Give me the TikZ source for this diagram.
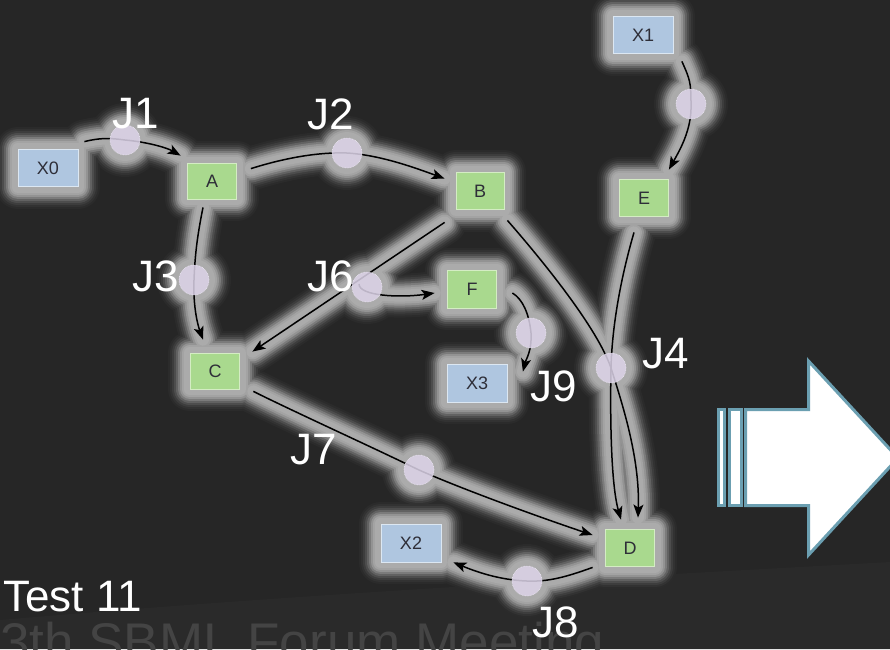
\documentclass[tikz,border=0pt]{standalone}
\usepackage{fontspec}
\setmainfont{Liberation Sans}
\usepackage{tikz}
\usetikzlibrary{arrows.meta,calc}

\pgfdeclarelayer{background}
\pgfdeclarelayer{front}
\pgfsetlayers{background,main,front}

\definecolor{bgdark}{HTML}{262626}
\definecolor{bgband}{HTML}{2A2A2A}
\definecolor{slidegray}{HTML}{444444}
\definecolor{spgreen}{HTML}{A9D98E}
\definecolor{spgreenedge}{HTML}{D4ECC4}
\definecolor{bdblue}{HTML}{AFC6E0}
\definecolor{bdblueedge}{HTML}{DCE7F2}
\definecolor{nodetext}{HTML}{2E2E38}
\definecolor{lav}{HTML}{DDD4E9}
\definecolor{lavedge}{HTML}{EEEAF4}
\definecolor{arrowteal}{HTML}{6B9FB1}
\definecolor{glowa}{HTML}{2B2B2B}
\definecolor{glowb}{HTML}{323232}
\definecolor{glowc}{HTML}{3D3D3D}
\definecolor{glowd}{HTML}{4D4D4D}
\definecolor{glowe}{HTML}{626262}
\definecolor{glowf}{HTML}{7B7B7B}
\definecolor{glowg}{HTML}{939393}
\definecolor{glowh}{HTML}{A3A3A3}
\definecolor{glowi}{HTML}{ABABAB}

\newcommand\nodefont{\fontsize{18}{20}\selectfont}
\newcommand\jfont{\fontsize{44}{48}\selectfont}

% reaction paths, drawn once as glow and once in black
\newcommand\rxnpaths[1]{%
  % J1: X0 -> A
  \draw[#1] ($(X0.north east)+(6,-7.5)$) .. controls +(16,-4) and +(-15,-2) .. (r1.center)
    .. controls +(22,2) and +(-14,-8) .. ($(A.north west)+(-6.5,-7)$);
  % J2: A -> B
  \draw[#1] ($(A.north east)+(14,6)$) .. controls +(35,-11) and +(-28,-1) .. (r2.center)
    .. controls +(33,2) and +(-30,-11) .. ($(B.north west)+(-11,6.5)$);
  % J3: A -> C
  \draw[#1] ($(A.south)+(-9,8)$) .. controls +(-6,30) and +(1,-25) .. (r3.center)
    .. controls +(-1,28) and +(-5,-14) .. ($(C.north)+(-12,-13)$);
  % J4: B + E -> D
  \draw[#1] ($(B.south east)+(3,10.5)$) .. controls +(48,55) and +(-12,-35) .. (r4.center)
    .. controls +(11,35) and +(2,-60) .. ($(D.north)+(8,-11.5)$);
  \draw[#1] ($(E.south)+(-10,15.5)$) .. controls +(-14,48) and +(1,-40) .. (r4.center)
    .. controls +(-1,50) and +(-10,-35) .. ($(D.north)+(-9,-9.5)$);
  % X1 -> E
  \draw[#1] ($(X1.south east)+(8.5,7.5)$) .. controls +(8,18) and +(0,-22) .. (r5.center)
    .. controls +(1,26) and +(10,-18) .. ($(E.north east)+(0,-9.5)$);
  % J6: B -> C + F
  \draw[#1] ($(B.south west)+(-11,12.5)$) -- ($(C.north east)+(12.5,-1)$);
  \draw[#1] ($(r6.center)+(-8,-3)$) .. controls +(0,12) and +(-35,5) .. ($(F.west)+(-12.5,4)$);
  % J7: C -> D
  \draw[#1] ($(C.south east)+(13.5,2)$) .. controls +(40,20) and +(-45,-22) .. (r7.center)
    .. controls +(45,20) and +(-45,-15) .. ($(D.west)+(-12.5,-13)$);
  % J8: D -> X2
  \draw[#1] ($(D.south west)+(-12.5,0.5)$) .. controls +(-25,9) and +(22,1) .. (r8.center)
    .. controls +(-28,-1) and +(22,9) .. ($(X2.south east)+(12,0)$);
  % J9: F -> X3
  \draw[#1] ($(F.east)+(15.5,4)$) .. controls +(10,6) and +(-2,-20) .. (r9.center)
    .. controls +(1,18) and +(3,-12) .. ($(X3.north east)+(15.5,8)$);
}

\begin{document}
\begin{tikzpicture}[x=1pt,y=-1pt,
    species/.style={draw=spgreenedge, line width=0.8pt, fill=spgreen, minimum width=49,
        minimum height=36, inner sep=0pt, font=\nodefont, text=nodetext},
    boundary/.style={species, draw=bdblueedge, fill=bdblue, minimum width=60, minimum height=37},
    rxnc/.style={circle, minimum size=30, inner sep=0pt, fill=lav, fill opacity=0.85,
        draw=lavedge, densely dotted, line width=0.6pt},
    jlab/.style={text=white, font=\jfont, inner sep=0pt},
    rxn/.style={draw=black, line width=1.5pt, -{Stealth[length=13pt,width=10pt,inset=3pt]}},
    bigarrow/.style={draw=arrowteal, fill=white, line width=3pt, line join=miter}]
    \useasboundingbox (0,0) rectangle (890,649);

    % species
    \node[boundary] (X0) at (48,168) {X0};
    \node[boundary] (X1) at (643,35) {X1};
    \node[boundary, minimum height=38] (X2) at (411,543) {X2};
    \node[boundary, minimum height=38] (X3) at (477,383) {X3};
    \node[species] (A) at (212,181) {A};
    \node[species, minimum width=48, minimum height=37] (B) at (480,191) {B};
    \node[species] (C) at (215,371) {C};
    \node[species, minimum height=37] (D) at (630,548) {D};
    \node[species, minimum height=37] (E) at (644,198) {E};
    \node[species, minimum height=38] (F) at (472,289) {F};

    % reactions and their labels
    \begin{pgfonlayer}{front}
        \node[rxnc] (r1) at (125,140) {};
        \node[rxnc] (r2) at (347,153) {};
        \node[rxnc] (r3) at (194,280) {};
        \node[rxnc] (r4) at (611,368) {};
        \node[rxnc] (r5) at (691,104) {};
        \node[rxnc] (r6) at (367,287) {};
        \node[rxnc] (r7) at (419,470) {};
        \node[rxnc] (r8) at (527,581) {};
        \node[rxnc] (r9) at (531,333) {};
        \node[jlab] (l1) at (136,114) {J1};
        \node[jlab] (l2) at (331,114) {J2};
        \node[jlab] (l3) at (156,276) {J3};
        \node[jlab] (l4) at (666,354) {J4};
        \node[jlab] (l6) at (331,276) {J6};
        \node[jlab] (l7) at (314,450) {J7};
        \node[jlab] (l8) at (556,622) {J8};
        \node[jlab] (l9) at (554,386) {J9};
        \node[jlab, anchor=base west] (title) at (3,611) {Test 11};
    \end{pgfonlayer}

    \rxnpaths{rxn}

    % striped block arrow
    \draw[bigarrow] (745.5,409.5) -- (808.5,409.5) -- (808.5,361) -- (898,458)
        -- (808.5,555) -- (808.5,505.5) -- (745.5,505.5) -- cycle;
    \draw[bigarrow] (718.5,409.5) rectangle (724.5,505.5);
    \draw[bigarrow] (729.5,409.5) rectangle (741.5,505.5);

    % slide background and glow
    \begin{pgfonlayer}{background}
        \fill[bgdark] (0,0) rectangle (890,649);
        \fill[bgband] (0,649) -- (0,620) .. controls (300,594) and (600,578) .. (890,562)
            -- (890,649) -- cycle;
        \node[anchor=base west, inner sep=0pt, text=slidegray, font=\fontsize{53}{56}\selectfont]
            (footer) at (0,660) {3th SBML Forum Meeting};
        \foreach \gw/\gc in {22/glowa,20/glowb,18/glowc,16/glowd,14/glowe,12/glowf,10/glowg,8/glowh,6/glowi} {
            \rxnpaths{draw=\gc, line width=2*\gw pt, line cap=round, line join=round}
            \foreach \n in {X0,X1,X2,X3,A,B,C,D,E,F}
                \filldraw[\gc, line width=2*\gw pt, line join=round]
                    (\n.south west) rectangle (\n.north east);
            \foreach \n in {r1,r2,r3,r4,r5,r6,r7,r8,r9}
                \fill[\gc] (\n.center) circle[radius=15+\gw];
        }
    \end{pgfonlayer}
\end{tikzpicture}
\end{document}
